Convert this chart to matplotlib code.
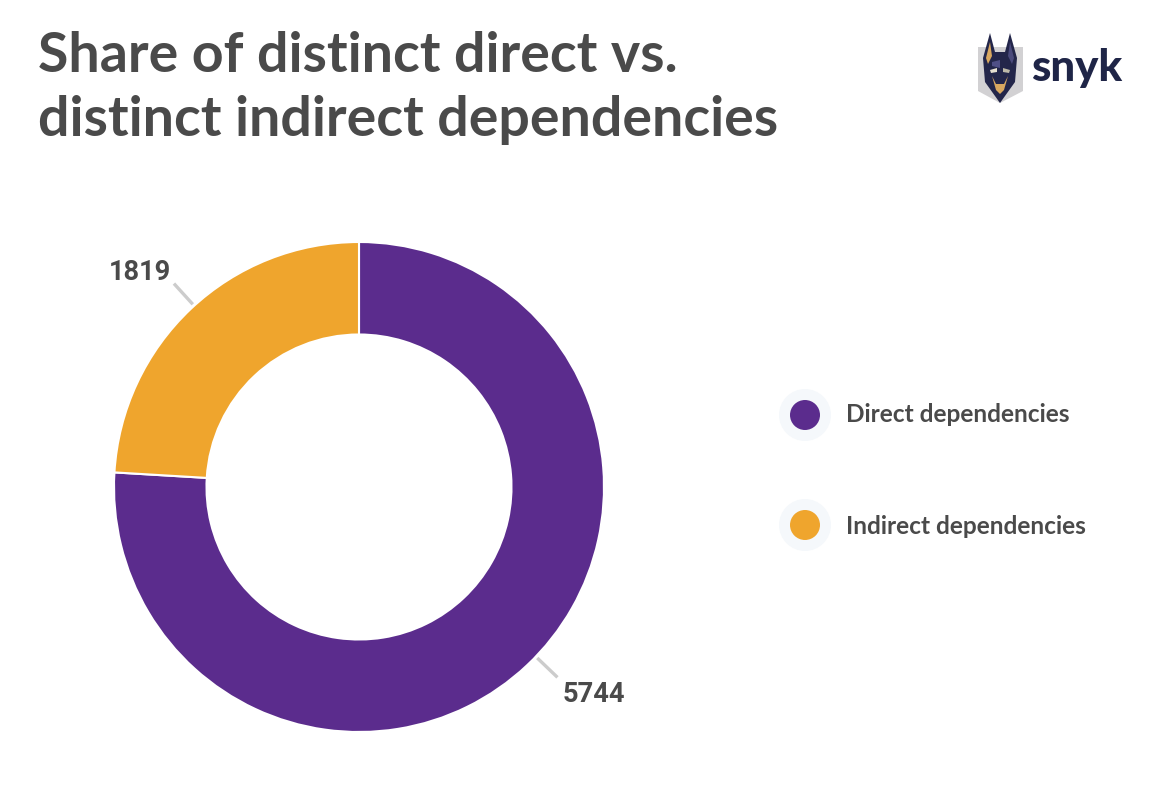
import numpy as np
import matplotlib
matplotlib.use("Agg")
import matplotlib.pyplot as plt
from matplotlib.patches import Polygon, Circle

title_lines = ["Share of distinct direct vs.", "distinct indirect dependencies"]
categories = ["Direct dependencies", "Indirect dependencies"]
values = [5744, 1819]
colors = ["#5B2C8D", "#EFA52D"]
TEXT = "#4A4A4A"
W, H = 1154, 799

fig = plt.figure(figsize=(W / 100, H / 100), dpi=100, facecolor="white")

# overlay in pixel coordinates for title, legend, logo
ov = fig.add_axes([0, 0, 1, 1], zorder=1)
ov.set_xlim(0, W)
ov.set_ylim(H, 0)
ov.axis("off")

# donut
cx, cy, R = 359, 487, 245
ax = fig.add_axes([(cx - R) / W, 1 - (cy + R) / H, 2 * R / W, 2 * R / H], zorder=2)
wedges, _ = ax.pie(values, colors=colors, startangle=90, counterclock=False, radius=1,
                   wedgeprops=dict(width=92.5 / 245, edgecolor="white", linewidth=1.5))
ax.set_xlim(-1, 1)
ax.set_ylim(-1, 1)
ax.set_aspect("equal")

# leader lines and data labels
nudge = [2.9, -1.0]
for w, v, n in zip(wedges, values, nudge):
    a = np.deg2rad((w.theta1 + w.theta2) / 2 + n)
    ux, uy = np.cos(a), -np.sin(a)
    ov.plot([cx + ux * 247, cx + ux * 275], [cy + uy * 247, cy + uy * 275],
            color="#CCCCCC", lw=2.4, solid_capstyle="butt", zorder=3)
    ex, ey = cx + ux * 275, cy + uy * 275
    if ux > 0:
        ov.text(ex + 5.5, ey + 17, str(v), ha="left", va="center", family="Roboto",
                fontweight="bold", fontsize=19.6, color=TEXT)
    else:
        ov.text(ex - 3, ey - 11, str(v), ha="right", va="center", family="Roboto",
                fontweight="bold", fontsize=19.6, color=TEXT)

# title
for line, y in zip(title_lines, [56, 120]):
    ov.text(38, y, line, ha="left", va="center", family="Lato", fontweight="bold",
            fontsize=40, color=TEXT)

# legend
for name, col, y, ty in zip(categories, colors, [415, 525], [415, 526]):
    ov.add_patch(Circle((805, y), 26, fc="#F5F8FB", ec="none"))
    ov.add_patch(Circle((805, y), 15, fc=col, ec="none"))
    ov.text(846, ty, name, ha="left", va="center", family="Lato", fontweight="bold",
            fontsize=17.6, color=TEXT)

# logo
ov.add_patch(Polygon([(978, 47), (1023, 47), (1023, 91), (1000, 103), (978, 91)],
                     closed=True, fc="#D2D1D3", ec="none"))
ov.add_patch(Polygon([(985, 82), (983, 58), (990, 33), (995, 52), (1005, 52), (1010, 33),
                      (1017, 58), (1015, 82), (1000, 103)],
                     closed=True, fc="#23264A", ec="none"))
ov.add_patch(Polygon([(986, 58), (990, 42), (992, 56), (988, 64)], closed=True, fc="#D9A860", ec="none"))
ov.add_patch(Polygon([(1014, 58), (1010, 42), (1008, 56), (1012, 64)], closed=True, fc="#4A4A7C", ec="none"))
ov.add_patch(Polygon([(992, 62), (1000, 60), (1000, 68), (992, 66)], closed=True, fc="#4F4F86", ec="none"))
ov.add_patch(Polygon([(990, 70), (997, 68), (997, 72), (991, 73)], closed=True, fc="#E6E0D0", ec="none"))
ov.add_patch(Polygon([(1010, 70), (1003, 68), (1003, 72), (1009, 73)], closed=True, fc="#BDB9A8", ec="none"))
ov.add_patch(Polygon([(992, 76), (996, 90), (1000, 94), (1004, 90), (1008, 76), (1004, 84), (996, 84)],
                     closed=True, fc="#D9A860", ec="none"))
ov.text(1031, 68, "snyk", ha="left", va="center", family="Lato", fontweight="black",
        fontsize=31.5, color="#1F2547")

fig.savefig("out.png", dpi=100, facecolor="white")
